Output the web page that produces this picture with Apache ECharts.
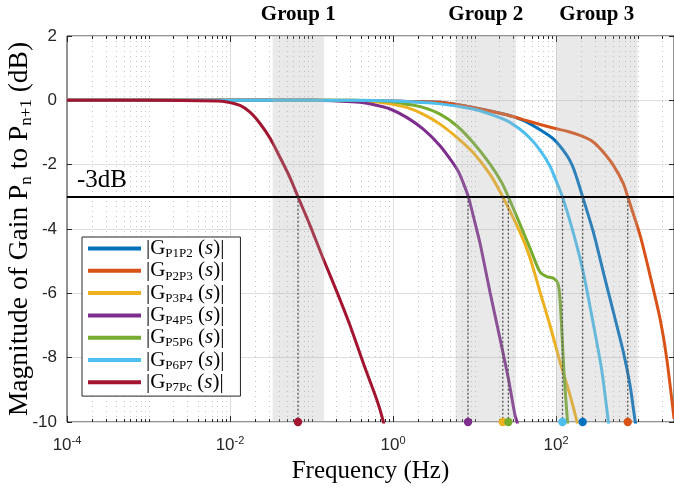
<!DOCTYPE html>
<html><head><meta charset="utf-8">
<script src="https://cdn.jsdelivr.net/npm/echarts@6/dist/echarts.min.js"></script>
<style>html,body{margin:0;padding:0;background:#fff}#c{width:674px;height:491px}</style>
</head><body><div id="c"></div>
<script>
// ---------- data ----------
const seriesNames = ['P1P2','P2P3','P3P4','P4P5','P5P6','P6P7','P7Pc'];
const seriesColors = ['#0072BD','#D95319','#EDB120','#7E2F8E','#77AC30','#4DBEEE','#A2142F'];

const freqP1P2 = [1e-4, 0.1, 1.22, 3.77, 9.59, 24.8, 39.4, 57.9, 92.7, 135, 160, 179, 212, 287, 380, 505, 670, 809, 931, 986];
const gainP1P2 = [0, 0, -0.03, -0.06, -0.22, -0.45, -0.62, -0.85, -1.2, -1.7, -2.05, -2.4, -3.0, -4.1, -5.34, -6.58, -7.83, -8.86, -9.95, -10.3];

const freqP2P3 = [1e-4, 0.1, 1.22, 3.77, 9.59, 24.8, 39.4, 63.6, 92.7, 140, 197, 270, 347, 505, 670, 758, 1075, 1423, 1888, 2280, 2806];
const gainP2P3 = [0, 0, -0.03, -0.06, -0.22, -0.45, -0.6, -0.75, -0.86, -0.97, -1.09, -1.25, -1.5, -2.02, -2.59, -3.0, -4.2, -5.44, -6.79, -8.03, -9.9];

const freqP3P4 = [1e-4, 0.3, 0.569, 0.919, 1.47, 2.33, 3.77, 6.05, 9.59, 15.5, 22.2, 36.1, 48.0, 63.6, 84.4, 112, 149, 181, 190];
const gainP3P4 = [0, 0, -0.04, -0.11, -0.22, -0.43, -0.74, -1.15, -1.62, -2.3, -3.0, -4.1, -4.9, -5.96, -7.0, -8.14, -9.18, -10, -10.3];

const freqP4P5 = [1e-4, 0.1, 0.351, 0.569, 0.919, 1.47, 2.33, 3.77, 5.45, 6.3, 7.23, 8.40, 10.0, 11.7, 15.5, 20.5, 26.0, 31.4, 33.2, 34.5];
const gainP4P5 = [0, 0, -0.05, -0.13, -0.27, -0.53, -0.89, -1.41, -1.95, -2.2, -2.55, -3.0, -3.75, -4.45, -5.97, -7.4, -8.65, -9.8, -10, -10.2];

const freqP5P6 = [1e-4, 0.3, 0.919, 1.47, 2.33, 3.77, 6.05, 9.59, 15.5, 21.5, 26.0, 36.1, 48.0, 63.6, 76.9, 92.7, 105.8, 112, 118.5, 125.4, 138.4, 144.5];
const gainP5P6 = [0, 0, -0.04, -0.12, -0.22, -0.43, -0.79, -1.31, -1.98, -2.55, -3.0, -3.85, -4.6, -5.34, -5.48, -5.53, -5.7, -6.2, -7.3, -8.5, -10, -10.4];

const freqP6P7 = [1e-4, 0.3, 1.22, 3.77, 9.59, 15.5, 24.8, 36.1, 48.0, 63.6, 84.4, 102, 121, 162, 214, 284, 364, 439, 460];
const gainP6P7 = [0, 0, -0.03, -0.11, -0.27, -0.43, -0.63, -0.9, -1.18, -1.55, -2.05, -2.55, -3.03, -4.1, -5.3, -6.9, -8.4, -10, -10.4];

const freqP7Pc = [1e-4, 0.001, 0.00692, 0.00918, 0.01327, 0.01758, 0.02333, 0.0310, 0.0410, 0.0544, 0.0682, 0.0960, 0.138, 0.206, 0.297, 0.429, 0.637, 0.753, 0.80];
const gainP7Pc = [0, 0, -0.02, -0.05, -0.16, -0.37, -0.72, -1.18, -1.77, -2.40, -3.0, -3.89, -4.90, -5.97, -7.0, -8.15, -9.33, -9.95, -10.3];

// -3 dB crossing frequencies (same order as seriesNames)
const crossFreq = [212, 758, 22.2, 8.32, 26.0, 120, 0.0682];
const thresholdDb = -3;

// shaded frequency groups
const groupLabels = ['Group 1', 'Group 2', 'Group 3'];
const groupStart = [0.0333, 5.85, 100];
const groupEnd = [0.142, 32.3, 1000];

// axes
const xMin = 1e-4, xMax = 2800;
const yMin = -10, yMax = 2, yStep = 2;
const xLabelExponents = [-4, -2, 0, 2];
const decadeExponents = [-4, -3, -2, -1, 0, 1, 2, 3];
const minorMultipliers = [2, 3, 4, 5, 6, 7, 8, 9];

// ---------- build ----------
const freqs = [freqP1P2, freqP2P3, freqP3P4, freqP4P5, freqP5P6, freqP6P7, freqP7Pc];
const gains = [gainP1P2, gainP2P3, gainP3P4, gainP4P5, gainP5P6, gainP6P7, gainP7Pc];

const gridTicks = [];
decadeExponents.forEach(e => {
  const major = xLabelExponents.indexOf(e) >= 0 ? 1 : 0;
  gridTicks.push([Math.pow(10, e), major, yMin]);
  minorMultipliers.forEach(m => {
    const v = m * Math.pow(10, e);
    if (v < xMax) gridTicks.push([v, 0, yMin]);
  });
});

const SERIF = '"Liberation Serif", "Times New Roman", serif';
const SANS = '"Liberation Sans", Arial, Helvetica, sans-serif';

const lineSeries = seriesNames.map((n, i) => ({
  name: n,
  type: 'line',
  data: freqs[i].map((f, k) => [f, gains[i][k]]),
  showSymbol: false,
  symbol: 'none',
  smooth: 0.25,
  clip: true,
  z: 2,
  color: seriesColors[i],
  lineStyle: { width: 3, color: seriesColors[i] },
  emphasis: { disabled: true },
  silent: true
}));

const gridSeries = {
  type: 'custom',
  z: 1,
  silent: true,
  clip: false,
  encode: { x: 0, y: 2 },
  data: gridTicks,
  renderItem: function (params, api) {
    const f = api.value(0), major = api.value(1);
    const cs = params.coordSys;
    const x = Math.round(api.coord([f, yMin])[0]) + 0.5;
    const top = cs.y, bot = cs.y + cs.height;
    const children = [];
    if (f > xMin * 1.0001) {
      children.push({
        type: 'line',
        shape: { x1: x, y1: top, x2: x, y2: bot },
        style: major ? { stroke: '#dedede', lineWidth: 1 } : { stroke: '#c4c4c4', lineWidth: 1, lineDash: [1, 4] }
      });
    }
    const len = major ? 6 : 3;
    children.push({ type: 'line', shape: { x1: x, y1: top, x2: x, y2: top + len }, style: { stroke: '#262626', lineWidth: 1 } });
    children.push({ type: 'line', shape: { x1: x, y1: bot, x2: x, y2: bot - len }, style: { stroke: '#262626', lineWidth: 1 } });
    return { type: 'group', children: children };
  }
};

const bandSeries = {
  type: 'custom',
  z: 3,
  silent: true,
  clip: false,
  encode: { x: [0, 1], y: 2 },
  data: groupStart.map((s, i) => [s, groupEnd[i], yMax, i]),
  renderItem: function (params, api) {
    const cs = params.coordSys;
    const x1 = api.coord([api.value(0), yMin])[0];
    const x2 = api.coord([api.value(1), yMin])[0];
    const i = api.value(3);
    return {
      type: 'group',
      children: [
        { type: 'rect', shape: { x: x1, y: cs.y, width: x2 - x1, height: cs.height },
          style: { fill: 'rgba(175,175,175,0.27)' } },
        { type: 'text', style: { text: groupLabels[i], x: (x1 + x2) / 2, y: cs.y - 21,
          align: 'center', verticalAlign: 'middle',
          font: 'bold 21px ' + SERIF, fill: '#000' } }
      ]
    };
  }
};

const crossSeries = {
  type: 'custom',
  z: 5,
  silent: true,
  clip: false,
  encode: { x: 0, y: 1 },
  data: crossFreq.map((f, i) => [f, yMin, i]),
  renderItem: function (params, api) {
    const f = api.value(0), i = api.value(2);
    const p1 = api.coord([f, thresholdDb]);
    const p2 = api.coord([f, yMin]);
    return {
      type: 'group',
      children: [
        { type: 'line', shape: { x1: p1[0], y1: p1[1], x2: p2[0], y2: p2[1] },
          style: { stroke: '#555', lineWidth: 1.3, lineDash: [2, 2] } },
        { type: 'circle', shape: { cx: p2[0], cy: p2[1], r: 4.2 },
          style: { fill: seriesColors[i] } }
      ]
    };
  }
};

const thresholdSeries = {
  type: 'line',
  data: [],
  z: 4,
  silent: true,
  markLine: {
    silent: true,
    symbol: ['none', 'none'],
    animation: false,
    lineStyle: { color: '#000', width: 2, type: 'solid' },
    label: {
      show: true, position: 'insideStartTop', formatter: '-3dB',
      fontFamily: SERIF, fontSize: 25, color: '#000', distance: [10, 4]
    },
    data: [{ yAxis: thresholdDb }]
  }
};

const chart = echarts.init(document.getElementById('c'), null, { renderer: 'canvas' });
chart.setOption({
  animation: false,
  backgroundColor: '#fff',
  grid: { left: 67, top: 36, right: 0, bottom: 69, outerBoundsMode: 'none', containLabel: false,
          show: true, borderColor: '#262626', borderWidth: 1, backgroundColor: 'transparent' },
  legend: {
    data: seriesNames,
    orient: 'vertical',
    left: 82, top: 237,
    z: 10,
    selectedMode: false,
    icon: 'rect',
    itemWidth: 53, itemHeight: 4,
    itemGap: 0,
    itemTextGap: 13,
    padding: [1, 16, 2, 6],
    backgroundColor: '#fff',
    borderColor: '#262626', borderWidth: 1, borderRadius: 0,
    formatter: function (name) {
      return '{m||G}{s|' + name + '}{m| (}{i|s}{m|)|}';
    },
    textStyle: {
      rich: {
        m: { fontFamily: SERIF, fontSize: 21, lineHeight: 23.6, color: '#000' },
        i: { fontFamily: SERIF, fontSize: 21, fontStyle: 'italic', lineHeight: 23.6, color: '#000' },
        s: { fontFamily: SERIF, fontSize: 13, lineHeight: 13, verticalAlign: 'bottom', color: '#000' }
      }
    }
  },
  xAxis: [{
    type: 'log', logBase: 10, min: xMin, max: xMax,
    axisLine: { show: false },
    axisTick: { show: false },
    splitLine: { show: false },
    name: 'Frequency (Hz)', nameLocation: 'middle', nameGap: 37, nameMoveOverlap: false,
    nameTextStyle: { fontFamily: SERIF, fontSize: 25, color: '#000' },
    axisLabel: {
      margin: 13,
      formatter: function (v) {
        const e = Math.log10(v), r = Math.round(e);
        if (Math.abs(e - r) < 1e-6 && xLabelExponents.indexOf(r) >= 0) {
          return '{b|10}{p|' + r + '}';
        }
        return '';
      },
      rich: {
        b: { fontFamily: SANS, fontSize: 17, lineHeight: 20, color: '#262626' },
        p: { fontFamily: SANS, fontSize: 11, lineHeight: 11, verticalAlign: 'top', color: '#262626' }
      }
    }
  }],
  yAxis: [{
    type: 'value', min: yMin, max: yMax, interval: yStep, position: 'left',
    axisLine: { show: false },
    axisTick: { show: true, inside: true, length: 5, lineStyle: { color: '#262626' } },
    splitLine: { show: true, lineStyle: { color: '#dedede', width: 1 } },
    axisLabel: { fontFamily: SANS, fontSize: 17, color: '#262626', margin: 10 },
    name: '{t|Magnitude of Gain P}{s|n}{t| to P}{s|n+1}{t| (dB)}',
    nameLocation: 'middle', nameRotate: 90, nameGap: 32, nameMoveOverlap: false,
    nameTextStyle: {
      rich: {
        t: { fontFamily: SERIF, fontSize: 27.5, lineHeight: 30, color: '#000' },
        s: { fontFamily: SERIF, fontSize: 17, lineHeight: 17, verticalAlign: 'bottom', color: '#000' }
      }
    }
  }, {
    type: 'value', min: yMin, max: yMax, interval: yStep, position: 'right',
    axisLine: { show: false },
    axisTick: { show: true, inside: true, length: 5, lineStyle: { color: '#262626' } },
    splitLine: { show: false },
    axisLabel: { show: false }
  }],
  series: [gridSeries].concat(lineSeries, [bandSeries, thresholdSeries, crossSeries])
});
</script>
</body></html>
